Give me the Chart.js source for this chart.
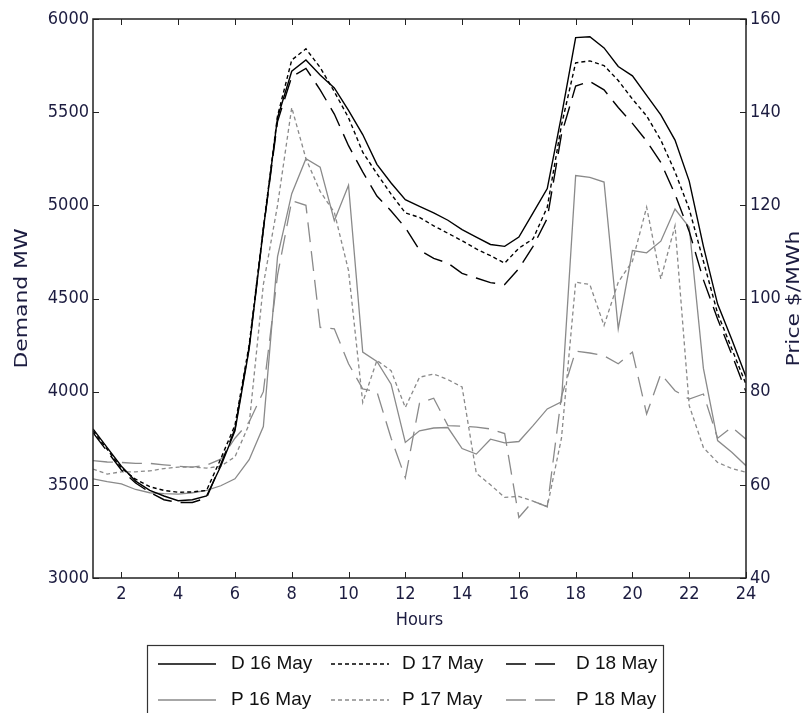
<!DOCTYPE html>
<html>
<head>
<meta charset="utf-8">
<script src="https://cdn.jsdelivr.net/npm/chart.js@4.4.1/dist/chart.umd.min.js"></script>
<style>
  html, body { margin: 0; padding: 0; background: #fff; }
  #wrap { width: 805px; height: 713px; }
</style>
</head>
<body>
<div id="wrap"><canvas id="chart" width="805" height="713"></canvas></div>
<script>
// half-hourly time axis
const hours = [1, 1.5, 2, 2.5, 3, 3.5, 4, 4.5, 5, 5.5, 6, 6.5, 7, 7.5, 8, 8.5, 9, 9.5, 10, 10.5, 11, 11.5, 12, 12.5,
  13, 13.5, 14, 14.5, 15, 15.5, 16, 16.5, 17, 17.5, 18, 18.5, 19, 19.5, 20, 20.5, 21, 21.5, 22, 22.5, 23, 23.5, 24];

// Demand (MW)
const demand16 = [3800, 3700, 3600, 3520, 3470, 3440, 3415, 3420, 3440, 3600, 3790, 4230, 4870, 5470, 5720, 5780,
  5700, 5630, 5510, 5380, 5220, 5120, 5030, 4995, 4960, 4920, 4870, 4830, 4790, 4780, 4830, 4960, 5090, 5480,
  5900, 5905, 5845, 5745, 5695, 5590, 5485, 5350, 5130, 4780, 4470, 4280, 4080];
const demand17 = [3790, 3690, 3590, 3530, 3490, 3470, 3460, 3462, 3470, 3640, 3820, 4250, 4880, 5480, 5780, 5840,
  5740, 5610, 5470, 5285, 5170, 5060, 4960, 4935, 4890, 4850, 4810, 4766, 4730, 4690, 4770, 4820, 4990, 5430,
  5765, 5775, 5750, 5670, 5570, 5480, 5350, 5180, 4980, 4700, 4420, 4230, 4040];
const demand18 = [3780, 3680, 3580, 3510, 3460, 3420, 3405, 3405, 3430, 3610, 3800, 4240, 4870, 5450, 5690, 5735,
  5620, 5490, 5320, 5180, 5050, 4970, 4880, 4760, 4715, 4690, 4635, 4610, 4585, 4575, 4660, 4780, 4930, 5380,
  5640, 5665, 5620, 5525, 5440, 5345, 5230, 5060, 4860, 4600, 4390, 4200, 4000];

// Price ($/MWh)
const price16 = [61.3, 60.7, 60.2, 59.0, 58.3, 58.1, 58.0, 58.3, 58.8, 59.8, 61.3, 65.4, 72.5, 109, 122.5, 130,
  128.2, 116.7, 124.3, 88.5, 86.5, 81.6, 69.1, 71.6, 72.2, 72.3, 67.8, 66.6, 69.8, 69.0, 69.3, 72.7, 76.3, 77.8,
  126.4, 126.0, 125.0, 93.5, 110.3, 109.8, 112.3, 119.2, 115.3, 85.0, 69.5, 67.0, 64.1];
const price17 = [63.4, 62.3, 62.8, 62.8, 63.0, 63.5, 63.8, 63.8, 63.6, 64.0, 66.0, 73.0, 103, 120, 141, 130,
  123, 118.5, 106, 77.7, 86.7, 84.5, 76.6, 83.1, 83.8, 82.6, 81.0, 62.5, 60.0, 57.3, 57.5, 56.5, 55.3, 70.0,
  103.5, 103.0, 94.2, 103.5, 108, 119.6, 104.2, 115.6, 77.0, 68.0, 64.8, 63.5, 62.7];
const price18 = [65.2, 64.9, 64.8, 64.6, 64.6, 64.3, 64.0, 63.8, 64.2, 65.5, 70.0, 73.5, 80, 105, 121, 120,
  93.8, 93.5, 86.0, 80.6, 80.0, 70.0, 61.5, 77.5, 78.6, 72.7, 72.6, 72.4, 72.0, 71.0, 53.0, 56.5, 55.3, 79.0,
  88.7, 88.3, 87.7, 86.0, 88.5, 75.2, 83.8, 80.2, 78.4, 79.5, 70.0, 72.4, 69.8];

// tick labels
const hourTicks = [2, 4, 6, 8, 10, 12, 14, 16, 18, 20, 22, 24];
const demandTicks = [3000, 3500, 4000, 4500, 5000, 5500, 6000];
const priceTicks = [40, 60, 80, 100, 120, 140, 160];

const legendLabels = ['D 16 May', 'D 17 May', 'D 18 May', 'P 16 May', 'P 17 May', 'P 18 May'];

const NARROW = '"DejaVu Sans Condensed", "Liberation Sans Narrow", sans-serif';
const REGULAR = '"Liberation Sans", Arial, sans-serif';
const TICK_COLOR = '#1c1c40';
const GRAY = '#8a8a8a';

function series(values) {
  return hours.map((h, i) => ({ x: h, y: values[i] }));
}

const styles = [
  { color: '#000', dash: [], width: 1.4, axis: 'y' },
  { color: '#000', dash: [4, 3], width: 1.4, axis: 'y' },
  { color: '#000', dash: [20, 9], width: 1.4, axis: 'y' },
  { color: GRAY, dash: [], width: 1.3, axis: 'y2' },
  { color: GRAY, dash: [4, 3], width: 1.3, axis: 'y2' },
  { color: GRAY, dash: [20, 9], width: 1.3, axis: 'y2' }
];
const allSeries = [demand16, demand17, demand18, price16, price17, price18];

const datasets = allSeries.map((vals, i) => ({
  label: legendLabels[i],
  data: series(vals),
  yAxisID: styles[i].axis,
  borderColor: styles[i].color,
  borderDash: styles[i].dash,
  borderWidth: styles[i].width,
  pointRadius: 0,
  tension: 0,
  fill: false
}));

// rotated axis title, stretched along its length like the original export
function verticalTitle(ctx, text, cx, cy, stretch) {
  ctx.save();
  ctx.translate(cx, cy);
  ctx.rotate(-Math.PI / 2);
  ctx.scale(stretch, 1);
  ctx.fillText(text, 0, 0);
  ctx.restore();
}

// frame, inward tick marks, axis titles and boxed legend
const decorations = {
  id: 'decorations',
  afterDatasetsDraw(chart) {
    const ctx = chart.ctx;
    const a = chart.chartArea;
    const x = chart.scales.x, y = chart.scales.y, y2 = chart.scales.y2;
    const tl = 6;
    ctx.save();
    ctx.strokeStyle = '#222';
    ctx.lineWidth = 1;
    ctx.setLineDash([]);
    ctx.beginPath();
    hourTicks.forEach(v => {
      const px = Math.round(x.getPixelForValue(v)) + 0.5;
      ctx.moveTo(px, a.bottom); ctx.lineTo(px, a.bottom - tl);
      ctx.moveTo(px, a.top); ctx.lineTo(px, a.top + tl);
    });
    demandTicks.forEach(v => {
      const py = Math.round(y.getPixelForValue(v)) + 0.5;
      ctx.moveTo(a.left, py); ctx.lineTo(a.left + tl, py);
    });
    priceTicks.forEach(v => {
      const py = Math.round(y2.getPixelForValue(v)) + 0.5;
      ctx.moveTo(a.right, py); ctx.lineTo(a.right - tl, py);
    });
    ctx.stroke();
    ctx.lineWidth = 1.5;
    ctx.strokeRect(a.left, a.top, a.right - a.left, a.bottom - a.top);

    // axis titles
    ctx.fillStyle = TICK_COLOR;
    ctx.font = '18px ' + NARROW;
    ctx.textAlign = 'center';
    ctx.textBaseline = 'middle';
    ctx.fillText('Hours', (a.left + a.right) / 2, 620);
    const midY = (a.top + a.bottom) / 2;
    verticalTitle(ctx, 'Demand MW', 22, midY, 1.35);
    verticalTitle(ctx, 'Price $/MWh', 794, midY, 1.35);

    // legend
    ctx.strokeStyle = '#333';
    ctx.lineWidth = 1.2;
    ctx.strokeRect(147.5, 645.5, 516, 100);
    const lineX = [158, 331, 506];
    const textX = [231, 402, 576];
    const rowY = [664, 700];
    ctx.font = '19px ' + REGULAR;
    ctx.textAlign = 'left';
    ctx.fillStyle = '#111';
    chart.data.datasets.forEach((ds, i) => {
      const col = i % 3, row = Math.floor(i / 3);
      ctx.beginPath();
      ctx.strokeStyle = ds.borderColor;
      ctx.lineWidth = ds.borderWidth;
      ctx.setLineDash(ds.borderDash);
      ctx.moveTo(lineX[col], rowY[row]);
      ctx.lineTo(lineX[col] + 58, rowY[row]);
      ctx.stroke();
      ctx.setLineDash([]);
      ctx.fillText(ds.label, textX[col], rowY[row]);
    });
    ctx.restore();
  }
};

const tickFont = { family: NARROW, size: 18 };
const plain = v => String(v);

new Chart(document.getElementById('chart'), {
  type: 'line',
  data: { datasets },
  options: {
    responsive: false,
    animation: false,
    layout: { padding: { top: 19, left: 0, right: 0, bottom: 0 } },
    plugins: { legend: { display: false }, tooltip: { enabled: false } },
    scales: {
      x: {
        type: 'linear',
        min: 1, max: 24,
        afterBuildTicks: s => { s.ticks = hourTicks.map(v => ({ value: v })); },
        afterFit: s => { s.height = 713 - 578; },
        grid: { display: false, drawTicks: false },
        border: { display: false },
        ticks: { color: TICK_COLOR, font: tickFont, padding: 6, maxRotation: 0, callback: plain }
      },
      y: {
        position: 'left',
        min: 3000, max: 6000,
        afterBuildTicks: s => { s.ticks = demandTicks.map(v => ({ value: v })); },
        afterFit: s => { s.width = 93; },
        grid: { display: false, drawTicks: false },
        border: { display: false },
        ticks: { color: TICK_COLOR, font: tickFont, padding: 4, callback: plain }
      },
      y2: {
        position: 'right',
        min: 40, max: 160,
        afterBuildTicks: s => { s.ticks = priceTicks.map(v => ({ value: v })); },
        afterFit: s => { s.width = 805 - 746; },
        grid: { display: false, drawTicks: false },
        border: { display: false },
        ticks: { color: TICK_COLOR, font: tickFont, padding: 4, callback: plain }
      }
    }
  },
  plugins: [decorations]
});
</script>
</body>
</html>
